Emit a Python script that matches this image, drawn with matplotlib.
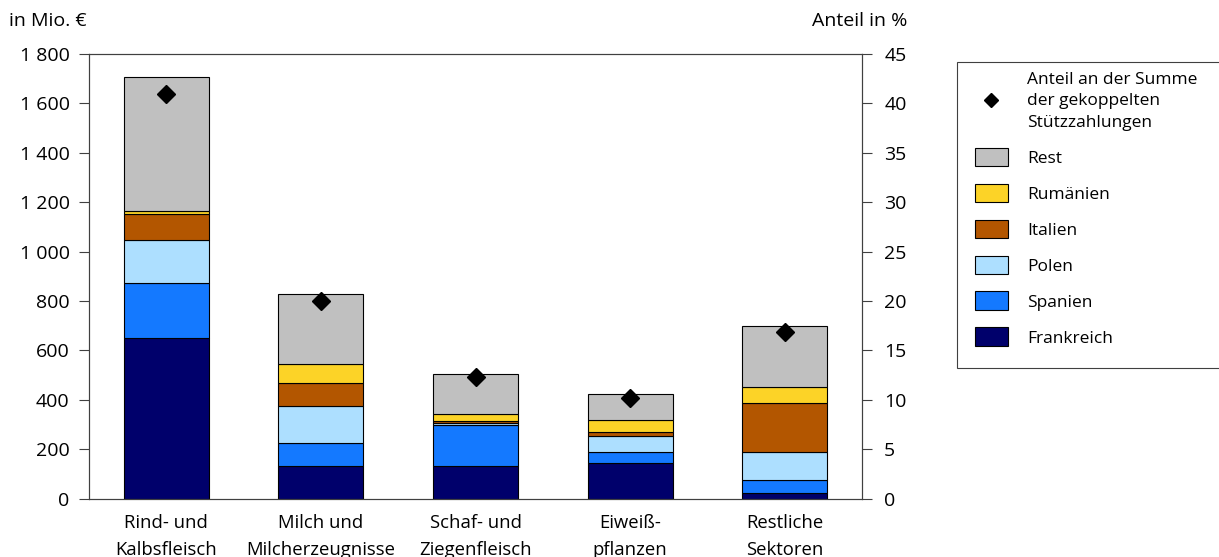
import numpy as np
import matplotlib.pyplot as plt
from matplotlib.patches import Patch, Rectangle
from matplotlib.lines import Line2D

plt.rcParams['font.family'] = ['Open Sans', 'DejaVu Sans']

kategorien = ['Rind- und\nKalbsfleisch', 'Milch und\nMilcherzeugnisse', 'Schaf- und\nZiegenfleisch',
              'Eiweiß-\npflanzen', 'Restliche\nSektoren']
frankreich = [649, 132, 132, 145, 24]
spanien = [223, 92, 166, 43, 52]
polen = [175, 150, 7, 67, 112]
italien = [104, 93, 11, 14, 198]
rumaenien = [14, 77, 26, 50, 65]
rest = [543, 285, 163, 104, 247]
anteil = [41.0, 20.0, 12.3, 10.2, 16.9]

serien = [('Frankreich', frankreich, '#00006B'),
          ('Spanien', spanien, '#1479FF'),
          ('Polen', polen, '#ADDFFF'),
          ('Italien', italien, '#B35600'),
          ('Rumänien', rumaenien, '#FCD327'),
          ('Rest', rest, '#C0C0C0')]

W, H = 1219, 557
fs = 14

fig = plt.figure(figsize=(W / 100, H / 100), dpi=100)
ax = fig.add_axes([89 / W, 1 - 498.7 / H, 773 / W, 444.7 / H])
x = np.arange(len(kategorien))
unten = np.zeros(len(kategorien))
for name, werte, farbe in serien:
    ax.bar(x, werte, 0.55, bottom=unten, color=farbe, edgecolor='black', linewidth=0.8)
    unten += np.array(werte)

ax.set_xlim(-0.5, 4.5)
ax.set_ylim(0, 1800)
ax.set_yticks(np.arange(0, 1801, 200))
ax.set_yticklabels(['{:,}'.format(v).replace(',', ' ') for v in range(0, 1801, 200)])
ax.set_xticks(x)
ax.set_xticklabels(kategorien, linespacing=1.65)
ax.tick_params(axis='x', length=0, pad=11, labelsize=13.3)
ax.tick_params(axis='y', direction='out', length=7, color='#404040', labelsize=fs, pad=7)
for s in ax.spines.values():
    s.set_color('#404040')

ax2 = ax.twinx()
ax2.set_ylim(0, 45)
ax2.set_yticks(np.arange(0, 46, 5))
ax2.plot(x, anteil, 'D', color='black', markersize=9, zorder=5)
ax2.tick_params(axis='y', direction='out', length=7, color='#404040', labelsize=fs, pad=9)
for s in ax2.spines.values():
    s.set_color('#404040')

fig.text(9 / W, 1 - 21 / H, 'in Mio. €', fontsize=fs, va='center', ha='left')
fig.text(907 / W, 1 - 21 / H, 'Anteil in %', fontsize=fs, va='center', ha='right')

# Legendenrahmen geht bis über den rechten Rand hinaus
fig.patches.append(Rectangle((957 / W, 1 - 368 / H), 300 / W, 306 / H, transform=fig.transFigure,
                             facecolor='white', edgecolor='#404040', linewidth=0.8))

handles = [Line2D([], [], marker='D', color='black', linestyle='none', markersize=7)]
labels = ['Anteil an der Summe\nder gekoppelten\nStützzahlungen']
for name, werte, farbe in reversed(serien):
    handles.append(Patch(facecolor=farbe, edgecolor='black', linewidth=0.8))
    labels.append(name)
leg = fig.legend(handles, labels, loc='upper left', bbox_to_anchor=(975 / W, 1 - 72 / H),
                 fontsize=12.5, frameon=False, handlelength=1.9, handleheight=1.27,
                 labelspacing=0.97, borderpad=0, handletextpad=1.1, borderaxespad=0)
for t in leg.get_texts():
    t.set_linespacing(1.45)

fig.savefig('out.png', dpi=100)
